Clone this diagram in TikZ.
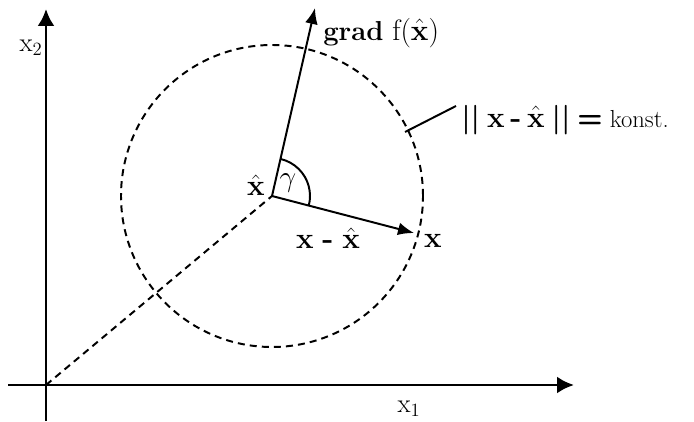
\documentclass[tikz,border=0pt]{standalone}
\usepackage{fix-cm}
\usepackage{amsmath}
\usepackage{tikz}
\usetikzlibrary{arrows.meta}

\begin{document}
\begin{tikzpicture}[x=0.025cm,y=0.025cm,>=Latex,font=\fontsize{21}{26}\selectfont,
  axis/.style={line width=2.1pt,-{Latex[length=4.2mm,width=4.2mm]}},
  vec/.style={line width=1.4pt,-{Latex[length=4mm,width=3.2mm]}},
  dash line/.style={line width=1.4pt,dash pattern=on 5pt off 3.6pt},
  axis label/.style={inner sep=0pt,font=\fontsize{19}{23}\selectfont}]
\useasboundingbox (0,0) rectangle (694,421);
% axes
\coordinate (o) at (46,36);
\coordinate (xa0) at (8,36);
\coordinate (xa1) at (574,36);
\coordinate (ya0) at (46,0);
\coordinate (ya1) at (46,412);
\draw[axis] (xa0) -- (xa1);
\draw[axis] (ya0) -- (ya1);
\node[axis label] (lx1) at (409,12) {x$_1$};
\node[axis label] (lx2) at (31,373) {x$_2$};
% circle around xhat
\coordinate (c) at (272,225);
\draw[dash line] (c) circle[radius=151];
\draw[dash line] (o) -- (c);
% vectors
\coordinate (g) at (315,413);
\coordinate (xp) at (414,188);
\draw[vec] (c) -- (g);
\draw[vec] (c) -- (xp);
\draw[line width=1.4pt] (c) ++(-14.6:38) arc[start angle=-14.6,end angle=77.1,radius=38];
\node[inner sep=0pt] (gam) at (288,238) {$\gamma$};
\node[inner sep=0pt] (xh) at (256,236) {$\hat{\mathbf{x}}$};
\node[inner sep=0pt] (xl) at (433,180) {$\mathbf{x}$};
\node[inner sep=0pt] (dx) at (328,183) {$\mathbf{x}$ \textbf{-} $\hat{\mathbf{x}}$};
\node[anchor=west,inner sep=0pt] (gl) at (323,388) {{\fontsize{19.5}{24}\selectfont\textbf{grad}} f($\hat{\mathbf{x}}$)};
% level set label
\coordinate (p0) at (405,289);
\coordinate (p1) at (456,315);
\draw[line width=1.4pt] (p0) -- (p1);
\node[anchor=west,inner sep=0pt] (kl) at (461,301) {\textsf{\textbf{||}}\hspace{5pt}$\mathbf{x}$\hspace{4pt}\textbf{-}\hspace{4pt}$\hat{\mathbf{x}}$\hspace{5pt}\textsf{\textbf{||}}\hspace{5pt}\textsf{\textbf{=}}\hspace{5pt}{\fontsize{17.5}{21}\selectfont konst.}};
\end{tikzpicture}
\end{document}
